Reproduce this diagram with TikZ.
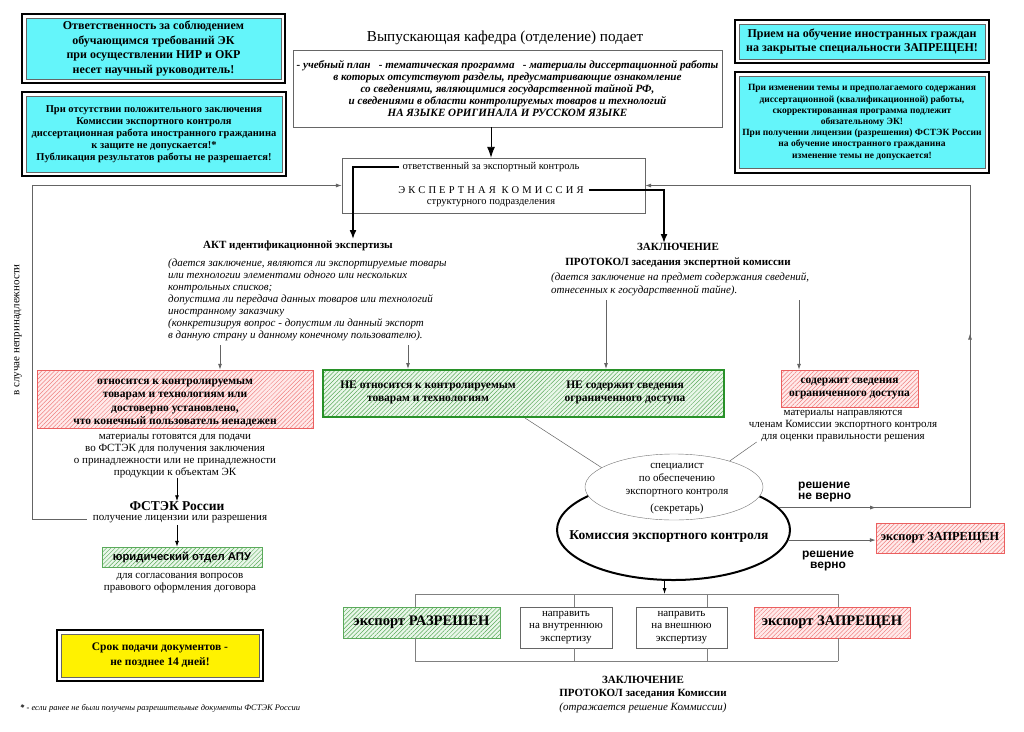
\documentclass[tikz,border=0pt]{standalone}
\usepackage{fontspec}
\setmainfont{Liberation Serif}
\newfontfamily\arialfont{Liberation Sans}
\usetikzlibrary{arrows.meta,patterns.meta,shapes.geometric,fit,decorations.markings}
\definecolor{aqua}{RGB}{100,245,250}
\definecolor{hatchred}{RGB}{235,95,95}
\definecolor{pinkbg}{RGB}{255,234,234}
\definecolor{hatchgreen}{RGB}{90,170,90}
\definecolor{greenbg}{RGB}{234,247,234}
\definecolor{darkgreen}{RGB}{40,145,40}
\definecolor{linegray}{RGB}{100,100,100}
\newcommand{\fsz}[2]{\fontsize{#1}{#2}\selectfont}
\tikzset{
  txt/.style={inner sep=0pt, align=center},
  warnbox/.style={draw=black!60, fill=aqua, align=center, inner sep=0pt},
  outframe/.style={draw=black, line width=2pt, inner sep=4pt},
  redbox/.style={draw=hatchred, preaction={fill=pinkbg},
    pattern={Lines[angle=45,distance=3pt,line width=0.5pt]}, pattern color=hatchred!80,
    align=center, inner sep=0pt},
  greenbox/.style={draw=hatchgreen, preaction={fill=greenbg},
    pattern={Lines[angle=45,distance=3pt,line width=0.5pt]}, pattern color=hatchgreen,
    align=center, inner sep=0pt},
  plainbox/.style={draw=black!60, align=center, inner sep=0pt},
  conn/.style={draw=linegray, line width=0.8pt},
  arr/.style={conn, -{Latex[length=6pt,width=4pt]}},
  bigarr/.style={draw=black, line width=0.9pt, -{Latex[length=11pt,width=8pt]}},
  thickarr/.style={draw=black, line width=1.6pt, -{Latex[length=9pt,width=7pt]}},
  bus/.style={draw=black!50, line width=1pt},
}
\begin{document}
\begin{tikzpicture}[x=1pt,y=-1pt]
    \path[use as bounding box, fill=white] (0,0) rectangle (1024,731);
    %% warnings, top left and top right
    \node (resp) at (153.5,48.5) [warnbox, minimum width=255, minimum height=61, font={\fsz{12}{14.5}\bfseries}]
      {Ответственность за соблюдением\\обучающимся требований ЭК\\при осуществлении НИР и ОКР\\несет научный руководитель!};
    \node (respframe) [outframe, fit=(resp)] {};
    \node (nocert) at (154,134) [warnbox, minimum width=256, minimum height=76, font={\fsz{10.5}{12}\bfseries}]
      {При отсутствии положительного заключения\\Комиссии экспортного контроля\\диссертационная работа иностранного гражданина\\к защите не допускается!*\\Публикация результатов работы не разрешается!};
    \node (nocertframe) [outframe, fit=(nocert)] {};
    \node (ban) at (862,41.5) [warnbox, minimum width=246, minimum height=35, font={\fsz{12}{13.5}\bfseries}]
      {Прием на обучение иностранных граждан\\на закрытые специальности ЗАПРЕЩЕН!};
    \node (banframe) [outframe, fit=(ban)] {};
    \node (change) at (862,122.5) [warnbox, minimum width=246, minimum height=92, font={\fsz{9.5}{11.2}\bfseries}]
      {При изменении темы и предполагаемого содержания\\диссертационной (квалификационной) работы,\\скорректированная программа подлежит\\обязательному ЭК!\\При получении лицензии (разрешения) ФСТЭК России\\на обучение иностранного гражданина\\изменение темы не допускается!};
    \node (changeframe) [outframe, fit=(change)] {};
    %% documents and expert commission
    \node (title) at (505,38) [txt, font=\fsz{15.2}{16}] {Выпускающая кафедра (отделение) подает};
    \node (docs) at (507.5,88.5) [plainbox, minimum width=429, minimum height=77, font={\fsz{11.1}{12}\bfseries\itshape}]
      {- учебный план \ \ - тематическая программа \ \ - материалы диссертационной работы\\в которых отсутствуют разделы, предусматривающие ознакомление\\со сведениями, являющимися государственной тайной РФ,\\и сведениями в области контролируемых товаров и технологий\\НА ЯЗЫКЕ ОРИГИНАЛА И РУССКОМ ЯЗЫКЕ};
    \node (expert) at (493.5,185.5) [plainbox, minimum width=303, minimum height=55] {};
    \node (officer) at (491,167) [txt, font=\fsz{10.5}{12}] {ответственный за экспортный контроль};
    \node (ekname) at (491,190) [txt, font=\fsz{10.5}{12}] {\addfontfeature{LetterSpace=30}ЭКСПЕРТНАЯ КОМИССИЯ};
    \node (subdiv) at (491,203) [txt, font=\fsz{10.5}{12}] {структурного подразделения};
    \draw[bigarr] (docs.south -| officer) -- (expert.north -| officer);
    \coordinate (aktin) at (353,239);
    \coordinate (zakin) at (664,243);
    \draw[thickarr] ([xshift=-3pt]officer.west) -| (aktin);
    \draw[thickarr] ([xshift=5pt]ekname.east) -| (zakin);
    %% two expertises
    \node (akttitle) at (298,246) [txt, font={\fsz{11}{12}\bfseries}] {АКТ идентификационной экспертизы};
    \node (aktnote) at (168,299.5) [txt, anchor=west, align=left, font={\fsz{11}{12}\itshape}]
      {(дается заключение, являются ли экспортируемые товары\\или технологии элементами одного или нескольких\\контрольных списков;\\допустима ли передача данных товаров или технологий\\иностранному заказчику\\(конкретизируя вопрос - допустим ли данный экспорт\\в данную страну и данному конечному пользователю).};
    \node (zaktitle) at (678,255.5) [txt, font={\fsz{11}{15}\bfseries}] {ЗАКЛЮЧЕНИЕ\\ПРОТОКОЛ заседания экспертной комиссии};
    \node (zaknote) at (551,284) [txt, anchor=west, align=left, font={\fsz{11}{13}\itshape}]
      {(дается заключение на предмет содержания сведений,\\отнесенных к государственной тайне).};
    %% results
    \node (ctrl) at (175,399) [redbox, minimum width=276, minimum height=58] {};
    \node (ctrllbl) at (175,403) [txt, font={\fsz{11.5}{13.5}\bfseries}]
      {относится к контролируемым\\товарам и технологиям или\\достоверно установлено,\\что конечный пользователь ненадежен};
    \node (nonctrl) at (523.5,393.5) [greenbox, draw=darkgreen, line width=2pt, minimum width=401, minimum height=47] {};
    \node (nonctrla) at (428,392) [txt, font={\fsz{11.5}{13}\bfseries}] {НЕ относится к контролируемым\\товарам и технологиям};
    \node (nonctrlb) at (625,392) [txt, font={\fsz{11.5}{13}\bfseries}] {НЕ содержит сведения\\ограниченного доступа};
    \node (secret) at (849.5,388.5) [redbox, minimum width=137, minimum height=37, font={\fsz{11.5}{13.5}\bfseries}]
      {содержит сведения\\ограниченного доступа};
    \node (secrettxt) at (843,426) [txt, font=\fsz{11}{12}] {материалы направляются\\членам Комиссии экспортного контроля\\для оценки правильности решения};
    \coordinate (d1) at (220,345);
    \coordinate (d2) at (408,345);
    \coordinate (d3) at (606,300);
    \coordinate (d4) at (799,300);
    \foreach \d/\b in {d1/ctrl, d2/nonctrl, d3/nonctrl, d4/secret}
      \draw[arr] (\d) -- (\d |- \b.north);
    %% left column
    \node (ctrltxt) at (175,456) [txt, font=\fsz{11}{12}] {материалы готовятся для подачи\\во ФСТЭК для получения заключения\\о принадлежности или не принадлежности\\продукции к объектам ЭК};
    \node (fstek) at (177,506) [txt, font={\fsz{13.5}{14}\bfseries}] {ФСТЭК России};
    \node (license) at (180,519) [txt, font=\fsz{11}{12}] {получение лицензии или разрешения};
    \node (legal) at (182,557) [greenbox, minimum width=160, minimum height=20, font={\arialfont\fsz{11.3}{12}\bfseries}] {юридический отдел АПУ};
    \node (legaltxt) at (180,583) [txt, font=\fsz{11}{12}] {для согласования вопросов\\правового оформления договора};
    \draw[arr, draw=black] (ctrltxt.south -| fstek) -- (fstek.north);
    \draw[arr, draw=black] ([yshift=-2pt]license.south -| fstek) -- (legal.north -| fstek);
    \node (notown) at (18,330) [txt, rotate=90, font=\fsz{11}{12}] {в случае непринадлежности};
    \coordinate (ll) at (32,0);
    \coordinate (lstart) at ([xshift=-6pt]license.west);
    \draw[arr] (lstart) -- (lstart -| ll) -- (ll |- expert.west) -- (expert.west);
    %% commission
    \node (comm) at (673.5,530) [ellipse, draw=black, line width=2pt, minimum width=233, minimum height=100, inner sep=0pt] {};
    \node (secr) at (674,487) [ellipse, draw=black!55, fill=white, minimum width=178, minimum height=66, inner sep=0pt] {};
    \node (secrtxt) at (677,489) [txt, font=\fsz{11}{13}] {специалист\\по обеспечению\\экспортного контроля\\[4pt](секретарь)};
    \node (commname) at (669,537) [txt, font={\fsz{13.5}{14}\bfseries}] {Комиссия экспортного контроля};
    \draw[conn, line width=0.5pt] (525,0 |- nonctrl.south) -- (secr.165);
    \draw[conn, line width=0.5pt] ([xshift=8pt]secrettxt.south west) -- (secr.25);
    \coordinate (rl) at (970,0);
    \draw[arr, postaction={decorate}, decoration={markings,
        mark=at position 97pt with {\arrow{Latex[length=6pt,width=4pt]}},
        mark=at position 365pt with {\arrow{Latex[length=6pt,width=4pt]}}}]
      (comm.12) -- (comm.12 -| rl) -- (rl |- expert.east) -- (expert.east);
    \node (wrong) at (798,492) [txt, anchor=west, align=left, font={\arialfont\fsz{12}{11}\bfseries}] {решение\\не верно};
    \node (forbida) at (940,538) [redbox, minimum width=128, minimum height=30, font={\fsz{12.3}{13}\bfseries}] {экспорт ЗАПРЕЩЕН};
    \draw[arr] (comm.-5) -- (comm.-5 -| forbida.west);
    \node (right) at (828,561) [txt, font={\arialfont\fsz{12}{11}\bfseries}] {решение\\верно};
    %% decisions of the commission
    \node (granted) at (421.5,622.5) [greenbox, minimum width=157, minimum height=31, font={\fsz{14.6}{15}\bfseries}] {экспорт РАЗРЕШЕН};
    \node (internal) at (566,627.5) [plainbox, minimum width=92, minimum height=41, font=\fsz{11}{12.5}] {направить\\на внутреннюю\\экспертизу};
    \node (external) at (681.5,627.5) [plainbox, minimum width=91, minimum height=41, font=\fsz{11}{12.5}] {направить\\на внешнюю\\экспертизу};
    \node (forbidb) at (832,622.5) [redbox, minimum width=156, minimum height=31, font={\fsz{14.6}{15}\bfseries}] {экспорт ЗАПРЕЩЕН};
    \coordinate (tl) at (415,594);
    \coordinate (tr) at (838,594);
    \coordinate (bl) at (415,661);
    \coordinate (br) at (838,661);
    \draw[bus] (tl) -- (tr);
    \draw[bus] (bl) -- (br);
    \foreach \b/\x in {granted/415, internal/574, external/707, forbidb/838} {
      \draw[bus] (\x,0 |- tl) -- (\x,0 |- \b.north);
      \draw[bus] (\x,0 |- \b.south) -- (\x,0 |- bl);
    }
    \draw[arr, draw=black] (comm.260) -- (comm.260 |- tl);
    \node (protocol) at (643,694.5) [txt, font=\fsz{11}{13.5}]
      {\textbf{ЗАКЛЮЧЕНИЕ}\\\textbf{ПРОТОКОЛ заседания Комиссии}\\\textit{(отражается решение Коммиссии)}};
    %% deadline and footnote
    \node (deadline) at (160,655.5) [warnbox, fill=yellow, minimum width=198, minimum height=43, font={\fsz{11.5}{15}\bfseries}]
      {Срок подачи документов -\\не позднее 14 дней!};
    \node (deadframe) [outframe, fit=(deadline)] {};
    \node (footnote) at (20,708) [txt, anchor=west, font={\fsz{8.5}{10}\itshape}] {\textbf{*} - если ранее не были получены разрешительные документы ФСТЭК России};
\end{tikzpicture}
\end{document}
